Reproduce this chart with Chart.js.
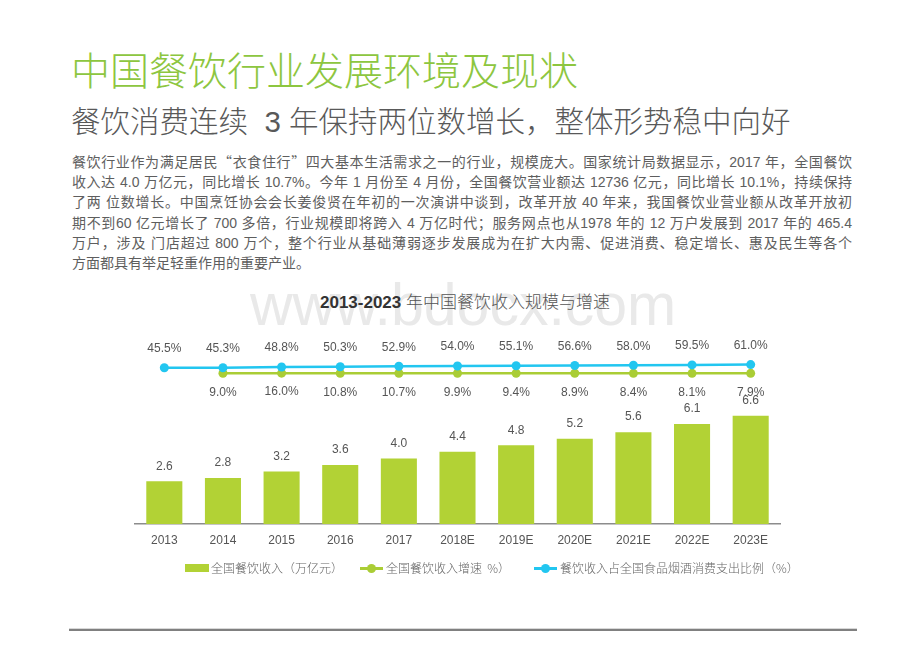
<!DOCTYPE html>
<html>
<head>
<meta charset="utf-8">
<script src="https://cdn.jsdelivr.net/npm/chart.js@4/dist/chart.umd.min.js"></script>
<style>
	html, body { margin: 0; padding: 0; background: #fff; }
	body { width: 920px; height: 651px; position: relative; overflow: hidden;
		font-family: "Liberation Sans", "Noto Sans CJK SC", sans-serif; }
	.abs { position: absolute; white-space: nowrap; }
	.cjk { font-family: "Noto Sans CJK SC", sans-serif; }
	#title { left: 71px; top: 52px; font-size: 39px; line-height: 1; color: #8dc63f; font-weight: 300; }
	#subtitle { left: 71px; top: 107px; font-size: 29.5px; line-height: 1; color: #595959; font-weight: 300; }
	#para { position: absolute; left: 72px; top: 151px; width: 780px; font-size: 14px; line-height: 20.2px; color: #5e5e5e; }
	#para div { text-align: justify; text-align-last: justify; white-space: nowrap; }
	#para div.last { text-align-last: left; }
	#watermark { left: 250px; top: 276px; font-size: 59px; line-height: 1; color: #e9e9e9; font-family: "Liberation Sans", sans-serif; }
	#chartTitle { left: 0; width: 930px; text-align: center; top: 293px; font-size: 17px; line-height: 20px; color: #555; }
	#chartTitle b { color: #333; }
	#chartTitle span { font-weight: 300; }
	#chartBox { position: absolute; left: 0; top: 320px; width: 920px; height: 240px; }
	.lg { position: absolute; font-size: 12px; line-height: 14px; color: #666; top: 561px; font-family: "Noto Sans CJK SC", sans-serif; font-weight: 300; }
	.rule1 { position: absolute; left: 69px; width: 788px; top: 628px; height: 1px; background: #d8d8d8; }
	.rule2 { position: absolute; left: 69px; width: 788px; top: 629px; height: 2px; background: #808080; }
</style>
</head>
<body>
<div id="title" class="abs">中国餐饮行业发展环境及现状</div>
<div id="subtitle" class="abs">餐饮消费连续&nbsp; 3 年保持两位数增长，整体形势稳中向好</div>
<div id="para">
	<div>餐饮行业作为满足居民<span class="cjk">“</span>衣食住行<span class="cjk">”</span>四大基本生活需求之一的行业，规模庞大。国家统计局数据显示，2017 年，全国餐饮</div>
	<div>收入达 4.0 万亿元，同比增长 10.7%。今年 1 月份至 4 月份，全国餐饮营业额达 12736 亿元，同比增长 10.1%，持续保持</div>
	<div>了两 位数增长。中国烹饪协会会长姜俊贤在年初的一次演讲中谈到，改革开放 40 年来，我国餐饮业营业额从改革开放初</div>
	<div>期不到60 亿元增长了 700 多倍，行业规模即将跨入 4 万亿时代；服务网点也从1978 年的 12 万户发展到 2017 年的 465.4</div>
	<div>万户，涉及 门店超过 800 万个，整个行业从基础薄弱逐步发展成为在扩大内需、促进消费、稳定增长、惠及民生等各个</div>
	<div class="last">方面都具有举足轻重作用的重要产业。</div>
</div>
<div id="watermark" class="abs">www.bdocx.com</div>
<div id="chartTitle" class="abs"><b>2013-2023</b> <span>年中国餐饮收入规模与增速</span></div>
<div id="chartBox"><canvas id="myChart"></canvas></div>

<div class="lg" style="left:185px;top:564px;width:24px;height:8px;background:#b2d235;"></div>
<div class="lg" style="left:211px;">全国餐饮收入（万亿元）</div>
<div class="lg" style="left:360px;top:567px;width:23px;height:2.5px;background:#aacd35;"></div>
<div class="lg" style="left:367px;top:564px;width:9px;height:9px;border-radius:50%;background:#aacd35;"></div>
<div class="lg" style="left:386px;">全国餐饮收入增速&nbsp; %）</div>
<div class="lg" style="left:534px;top:567px;width:23px;height:2.5px;background:#22c6f0;"></div>
<div class="lg" style="left:541px;top:564px;width:9px;height:9px;border-radius:50%;background:#22c6f0;"></div>
<div class="lg" style="left:560px;">餐饮收入占全国食品烟酒消费支出比例（%）</div>

<div class="rule1"></div>
<div class="rule2"></div>

<script>
// chart data
const years = ["2013", "2014", "2015", "2016", "2017", "2018E", "2019E", "2020E", "2021E", "2022E", "2023E"];
const revenue = [2.6, 2.8, 3.2, 3.6, 4.0, 4.4, 4.8, 5.2, 5.6, 6.1, 6.6];
const growthRate = [null, 9.0, 16.0, 10.8, 10.7, 9.9, 9.4, 8.9, 8.4, 8.1, 7.9];
const shareOfFood = [45.5, 45.3, 48.8, 50.3, 52.9, 54.0, 55.1, 56.6, 58.0, 59.5, 61.0];

const barColor = "#b2d235";
const greenLine = "#aacd35";
const blueLine = "#22c6f0";

// draws the value labels above / below the marks
const valueLabels = {
	id: "valueLabels",
	afterDatasetsDraw(chart) {
		const ctx = chart.ctx;
		ctx.save();
		ctx.font = "12px 'Liberation Sans', sans-serif";
		ctx.fillStyle = "#555";
		ctx.textAlign = "center";
		ctx.textBaseline = "middle";
		chart.data.datasets.forEach((ds, i) => {
			const meta = chart.getDatasetMeta(i);
			meta.data.forEach((el, j) => {
				const v = ds.data[j];
				if (v === null || v === undefined) return;
				if (ds.tag === "bar") {
					ctx.fillText(v.toFixed(1), el.x, el.y - 15);
				} else if (ds.tag === "share") {
					ctx.fillText(v.toFixed(1) + "%", el.x, el.y - 19);
				} else {
					ctx.fillText(v.toFixed(1) + "%", el.x, el.y + 19);
				}
			});
		});
		ctx.restore();
	},
};

const ctx = document.getElementById("myChart");

new Chart(ctx, {
	type: "bar",
	data: {
		labels: years,
		datasets: [
			{
				type: "line",
				tag: "share",
				data: shareOfFood,
				yAxisID: "yShare",
				borderColor: blueLine,
				backgroundColor: blueLine,
				borderWidth: 2.5,
				pointRadius: 4.5,
				pointBorderWidth: 0,
				tension: 0,
				order: 1,
			},
			{
				type: "line",
				tag: "growth",
				data: growthRate,
				yAxisID: "yGrowth",
				borderColor: greenLine,
				backgroundColor: greenLine,
				borderWidth: 2.5,
				pointRadius: 4.5,
				pointBorderWidth: 0,
				tension: 0,
				order: 2,
			},
			{
				tag: "bar",
				data: revenue,
				yAxisID: "y",
				backgroundColor: barColor,
				barPercentage: 0.75,
				categoryPercentage: 0.82,
				order: 3,
			},
		],
	},
	options: {
		responsive: true,
		maintainAspectRatio: false,
		animation: false,
		layout: { padding: { left: 135, right: 140, top: 15, bottom: 0 } },
		plugins: { legend: { display: false }, tooltip: { enabled: false } },
		scales: {
			x: {
				grid: { display: false, drawTicks: false },
				border: { display: true, color: "#8c8c8c", width: 1.5 },
				ticks: {
					color: "#555",
					padding: 9,
					font: { family: "'Liberation Sans', sans-serif", size: 12 },
				},
				afterFit: (s) => { s.height = 36; },
			},
			y: { display: false, min: 0, max: 11.52 },
			yShare: { display: false, min: -736, max: 209 },
			yGrowth: { display: false, min: -7526, max: 1924 },
		},
	},
	plugins: [valueLabels],
});
</script>
</body>
</html>
